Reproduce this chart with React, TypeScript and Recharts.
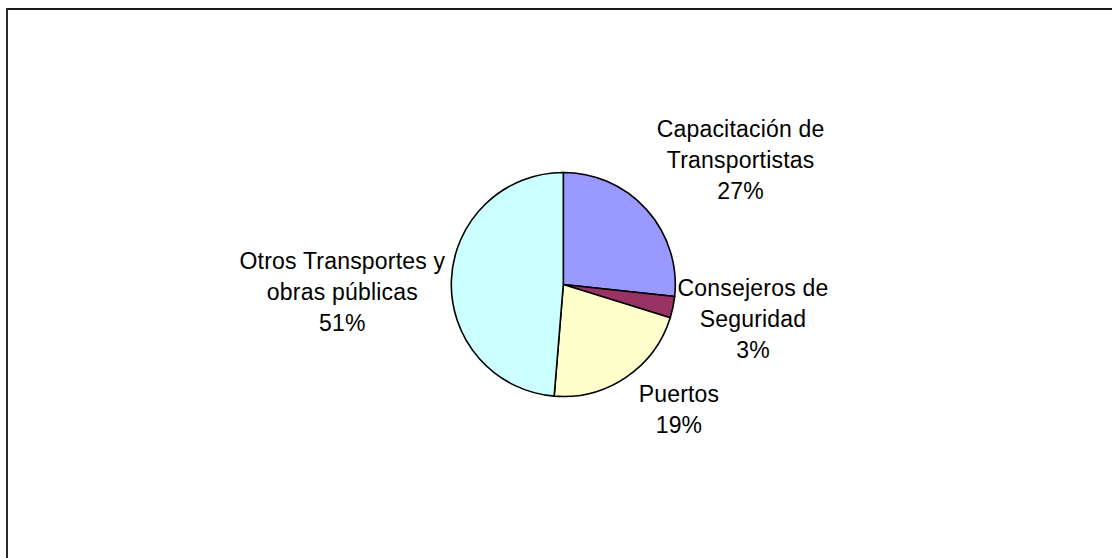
import React from "react";
import { PieChart, Pie, Cell } from "recharts";

const CATEGORIES = [
  "Capacitación de Transportistas",
  "Consejeros de Seguridad",
  "Puertos",
  "Otros Transportes y obras públicas",
];
const VALUES = [26.7, 3.1, 21.5, 48.7];
// Label texts as printed on the chart
const LABEL_LINES = [
  ["Capacitación de", "Transportistas"],
  ["Consejeros de", "Seguridad"],
  ["Puertos"],
  ["Otros Transportes y", "obras públicas"],
];
const PERCENT_LABELS = ["27%", "3%", "19%", "51%"];

const COLORS = ["#9999FF", "#993366", "#FFFFCC", "#CCFFFF"];
// label offsets from slice edge midpoint (dx, dy) in px
const LABEL_OFFSETS: [number, number][] = [
  [94, -42],
  [80, 20],
  [53, 40],
  [-109, 20],
];

const data = CATEGORIES.map((name, i) => ({ name, value: VALUES[i] }));

const RADIAN = Math.PI / 180;
const LINE_H = 31;
const FONT = "'Liberation Sans', Arial, sans-serif";

const renderLabel = (props: any) => {
  const { cx, cy, midAngle, outerRadius, index } = props;
  const ex = cx + outerRadius * Math.cos(-midAngle * RADIAN);
  const ey = cy + outerRadius * Math.sin(-midAngle * RADIAN);
  const [dx, dy] = LABEL_OFFSETS[index];
  const lines = [...LABEL_LINES[index], PERCENT_LABELS[index]];
  const n = lines.length;
  const x = ex + dx;
  const y0 = ey + dy - ((n - 1) / 2) * LINE_H;
  return (
    <text
      key={`lbl-${index}`}
      x={x}
      y={y0}
      textAnchor="middle"
      fill="#000"
      fontFamily={FONT}
      fontSize={23}
      letterSpacing={0.2}
    >
      {lines.map((l, k) => (
        <tspan key={k} x={x} y={y0 + k * LINE_H}>
          {l}
        </tspan>
      ))}
    </text>
  );
};

export default function App() {
  return (
    <div style={{ position: "fixed", left: 0, top: 0, width: 1112, height: 558, background: "#fff", overflow: "hidden" }}>
      <div style={{ position: "absolute", left: 6, top: 8, width: 1300, height: 2, background: "#1a1a1a" }} />
      <div style={{ position: "absolute", left: 6, top: 8, width: 2, height: 800, background: "#2a2a2a" }} />
      <div style={{ position: "absolute", left: 0, top: 0 }}>
        <PieChart width={1000} height={540} margin={{ top: 0, right: 0, bottom: 0, left: 0 }} style={{ outline: "none" }}>
          <Pie
            data={data}
            dataKey="value"
            nameKey="name"
            cx={563.3}
            cy={284.5}
            outerRadius={112}
            startAngle={90}
            endAngle={-270}
            stroke="#000"
            strokeWidth={1.6}
            isAnimationActive={false}
            labelLine={false}
            label={renderLabel}
          >
            {data.map((d, i) => (
              <Cell key={d.name} fill={COLORS[i]} />
            ))}
          </Pie>
        </PieChart>
      </div>
    </div>
  );
}
